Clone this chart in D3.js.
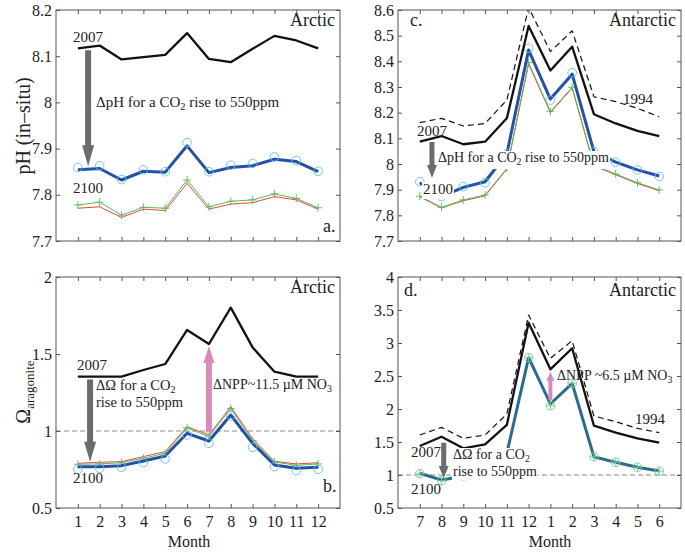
<!DOCTYPE html>
<html><head><meta charset="utf-8">
<script src="https://cdn.jsdelivr.net/npm/d3@7"></script>
<style>body{margin:0;background:#fff} svg{font-family:"Liberation Serif","Times New Roman",serif}</style>
</head><body><svg id="c" width="685" height="552"></svg>
<script>
// ---------- data ----------
const monthsArctic = [1,2,3,4,5,6,7,8,9,10,11,12];
const monthsAntarctic = [7,8,9,10,11,12,1,2,3,4,5,6];

// a. pH Arctic
const phArc2007   = [8.117,8.123,8.093,8.098,8.103,8.150,8.094,8.087,8.116,8.144,8.134,8.117];
const phArcBlue   = [7.854,7.857,7.832,7.851,7.849,7.906,7.848,7.859,7.863,7.877,7.872,7.850];
const phArcCirc   = [7.859,7.863,7.833,7.854,7.850,7.913,7.850,7.864,7.868,7.882,7.874,7.851];
const phArcGreen  = [7.778,7.784,7.756,7.773,7.771,7.832,7.774,7.786,7.789,7.802,7.792,7.772];
const phArcRed    = [7.771,7.774,7.751,7.769,7.766,7.825,7.769,7.780,7.783,7.796,7.789,7.769];

// b. Omega Arctic
const omArc2007   = [1.353,1.353,1.353,1.396,1.435,1.656,1.565,1.801,1.543,1.385,1.353,1.353];
const omArcBlue   = [0.768,0.768,0.775,0.805,0.838,0.985,0.935,1.104,0.920,0.779,0.758,0.764];
const omArcCirc   = [0.751,0.758,0.764,0.794,0.818,0.974,0.920,1.098,0.894,0.768,0.742,0.751];
const omArcGreen  = [0.784,0.786,0.794,0.823,0.855,1.021,0.963,1.147,0.937,0.799,0.777,0.786];
const omArcRed    = [0.790,0.797,0.801,0.834,0.866,1.028,0.974,1.158,0.950,0.803,0.786,0.794];

// c. pH Antarctic
const phAnt2007   = [8.087,8.109,8.077,8.087,8.178,8.538,8.364,8.457,8.194,8.158,8.129,8.109];
const phAnt1994   = [8.161,8.178,8.148,8.158,8.249,8.610,8.438,8.519,8.262,8.243,8.217,8.184];
const phAntBlue   = [7.927,7.873,7.909,7.931,8.040,8.444,8.253,8.350,8.048,8.007,7.977,7.953];
const phAntCirc   = [7.931,7.873,7.912,7.927,8.040,8.451,8.249,8.356,8.048,8.007,7.977,7.951];
const phAntGreen  = [7.875,7.831,7.860,7.879,7.983,8.395,8.204,8.299,7.996,7.961,7.927,7.899];
const phAntRed    = [7.872,7.829,7.857,7.876,7.980,8.390,8.200,8.296,7.993,7.958,7.924,7.896];

// d. Omega Antarctic
const omAnt2007   = [1.439,1.580,1.404,1.465,1.758,3.308,2.601,2.920,1.747,1.641,1.556,1.489];
const omAnt1994   = [1.606,1.722,1.556,1.606,1.924,3.424,2.768,3.035,1.894,1.808,1.707,1.641];
const omAntBlue   = [1.026,0.924,0.980,1.010,1.330,2.778,2.076,2.389,1.277,1.192,1.117,1.061];
const omAntCirc   = [1.020,0.915,0.980,1.010,1.330,2.778,2.050,2.389,1.277,1.192,1.117,1.058];

// ticks
const ticksPhArc = [7.7,7.8,7.9,8,8.1,8.2];
const ticksOmArc = [0.5,1,1.5,2];
const ticksPhAnt = [7.7,7.8,7.9,8,8.1,8.2,8.3,8.4,8.5,8.6];
const ticksOmAnt = [0.5,1,1.5,2,2.5,3,3.5,4];

// ---------- drawing ----------
const svg = d3.select("#c");
const H = 231;
const AX = "#555";

function panel(o){
  const g = svg.append("g").attr("transform",`translate(${o.left},${o.top})`);
  const x = d3.scaleLinear().domain([0,13]).range([0,o.w]);
  const y = d3.scaleLinear().domain(o.yDomain).range([H,0]);
  const id = "clip"+o.name;
  g.append("clipPath").attr("id",id).append("rect").attr("width",o.w).attr("height",H);
  const plot = g.append("g").attr("clip-path",`url(#${id})`);
  const fmt = d => String(+d.toFixed(2));
  const st = a => { a.select(".domain").remove(); a.selectAll("line").attr("stroke",AX);
    a.selectAll("text").attr("fill","#222").style("font-family","Liberation Serif").style("font-size","16px"); };
  g.append("g").attr("transform",`translate(0,${H})`)
    .call(d3.axisBottom(x).tickValues(d3.range(1,13)).tickSize(-4).tickPadding(8)
      .tickFormat(o.xLabels ? (d => o.xLabels[d-1]) : "")).call(st);
  g.append("g").call(d3.axisTop(x).tickValues(d3.range(1,13)).tickSize(-4).tickFormat("")).call(st);
  g.append("g").call(d3.axisLeft(y).tickValues(o.yTicks).tickSize(-4).tickPadding(4).tickFormat(fmt)).call(st);
  g.append("g").attr("transform",`translate(${o.w},0)`)
    .call(d3.axisRight(y).tickValues(o.yTicks).tickSize(-4).tickFormat("")).call(st);
  g.append("rect").attr("width",o.w).attr("height",H).attr("fill","none").attr("stroke",AX).attr("stroke-width",1);
  const line = d3.line().x((d,i)=>x(i+1)).y(d=>y(d));
  return {g,x,y,plot,line,w:o.w};
}

function drawLine(p, data, color, width, dash){
  p.plot.append("path").datum(data).attr("d",p.line).attr("fill","none")
    .attr("stroke",color).attr("stroke-width",width).attr("stroke-linejoin","round")
    .attr("stroke-dasharray",dash||null);
}
function circles(p, data, color){
  p.plot.selectAll(null).data(data).enter().append("circle")
    .attr("cx",(d,i)=>p.x(i+1)).attr("cy",d=>p.y(d)).attr("r",4.3)
    .attr("fill","none").attr("stroke",color).attr("stroke-width",0.9);
}
function pluses(p, data, color){
  p.plot.selectAll(null).data(data).enter().append("path")
    .attr("d",(d,i)=>{const cx=p.x(i+1), cy=p.y(d); return `M${cx-4},${cy}H${cx+4}M${cx},${cy-4}V${cy+4}`;})
    .attr("stroke",color).attr("stroke-width",0.9);
}
function hline(p, v){
  p.plot.append("line").attr("x1",0).attr("x2",p.w).attr("y1",p.y(v)).attr("y2",p.y(v))
    .attr("stroke","#8a8a8a").attr("stroke-width",1).attr("stroke-dasharray","5,3");
}
function arrow(p, xv, v1, v2, color, sw, hw, hl){
  const x = p.x(xv), y1 = p.y(v1), y2 = p.y(v2);
  const dir = y2 > y1 ? 1 : -1;
  const yh = y2 - dir*hl;
  p.g.append("path").attr("fill",color)
    .attr("d",`M${x-sw/2},${y1}L${x+sw/2},${y1}L${x+sw/2},${yh}L${x+hw/2},${yh}L${x},${y2}L${x-hw/2},${yh}L${x-sw/2},${yh}Z`);
}
// lines: array of lines, each an array of parts; a part that is an array is a subscript
function label(p, x, y, lines, size, opts={}){
  const grp = p.g.append("g");
  const lh = opts.lh || size*1.05;
  lines.forEach((parts, li) => {
    const t = grp.append("text").attr("x",x).attr("y",y+li*lh).attr("fill","#222")
      .style("font-size",size+"px").attr("text-anchor",opts.anchor||"start");
    let sub = false;
    parts.forEach(s => {
      const isSub = Array.isArray(s);
      const ts = t.append("tspan").text(isSub ? s[0] : s);
      if (isSub){ ts.style("font-size",(size*0.7)+"px"); if(!sub){ ts.attr("dy",size*0.22); sub = true; } }
      else if (sub){ ts.attr("dy",-size*0.22); sub = false; }
    });
  });
  if (opts.bg){
    const b = grp.node().getBBox();
    grp.insert("rect",":first-child").attr("x",b.x-1).attr("y",b.y+1)
      .attr("width",b.width+2).attr("height",b.height+1).attr("fill","#fff");
  }
  return grp;
}

const GRAY = "#6b6c6e", PINK = "#d98abd";
const BLUE = "#2450a6", CYAN = "#5ec3e8", GREEN = "#5cb85c", RED = "#e2483c";

// a.
const pa = panel({name:"a",left:56,top:10,w:284,yDomain:[7.7,8.2],yTicks:ticksPhArc});
drawLine(pa, phArcRed, RED, 1);
drawLine(pa, phArcGreen, GREEN, 1);
pluses(pa, phArcGreen, GREEN);
drawLine(pa, phArcBlue, BLUE, 3);
circles(pa, phArcCirc, CYAN);
drawLine(pa, phArc2007, "#111", 2.3);
arrow(pa, 1.47, 8.113, 7.862, GRAY, 6, 12, 21);
label(pa, 17, 32, [["2007"]], 15);
label(pa, 17, 183, [["2100"]], 15);
label(pa, 40, 97, [["ΔpH for a CO",["2"]," rise to 550ppm"]], 15);
label(pa, 279, 16, [["Arctic"]], 18, {anchor:"end"});
label(pa, 267, 222, [["a."]], 18);

// b.
const pb = panel({name:"b",left:56,top:277,w:284,yDomain:[0.5,2],yTicks:ticksOmArc,xLabels:monthsArctic});
hline(pb, 1);
drawLine(pb, omArcRed, RED, 1);
drawLine(pb, omArcGreen, GREEN, 1);
pluses(pb, omArcGreen, GREEN);
drawLine(pb, omArcBlue, BLUE, 3);
circles(pb, omArcCirc, CYAN);
drawLine(pb, omArc2007, "#111", 2.3);
arrow(pb, 1.56, 1.335, 0.80, GRAY, 6, 12, 20);
arrow(pb, 7, 0.99, 1.552, PINK, 6, 11, 17);
label(pb, 21, 93, [["2007"]], 15);
label(pb, 17, 206, [["2100"]], 15);
label(pb, 40, 113, [["ΔΩ for a CO",["2"]],["rise to 550ppm"]], 14.5, {lh:17});
label(pb, 157, 112, [["ΔNPP~11.5 µM NO",["3"]]], 14);
label(pb, 279, 16, [["Arctic"]], 18, {anchor:"end"});
label(pb, 267, 215, [["b."]], 18);

// c.
const pc = panel({name:"c",left:398,top:10,w:283,yDomain:[7.7,8.6],yTicks:ticksPhAnt});
drawLine(pc, phAnt1994, "#111", 1.2, "6,4");
drawLine(pc, phAntRed, RED, 1);
drawLine(pc, phAntGreen, GREEN, 1);
pluses(pc, phAntGreen, GREEN);
drawLine(pc, phAntBlue, BLUE, 3);
circles(pc, phAntCirc, CYAN);
drawLine(pc, phAnt2007, "#111", 2.3);
arrow(pc, 1.56, 8.086, 7.945, GRAY, 5, 10, 13);
label(pc, 19, 126, [["2007"]], 15);
label(pc, 25, 184, [["2100"]], 15, {bg:true});
label(pc, 225, 94, [["1994"]], 15);
label(pc, 40, 152, [["ΔpH for a CO",["2"]," rise to 550ppm"]], 14, {bg:true});
label(pc, 12, 16, [["c."]], 18);
label(pc, 278, 16, [["Antarctic"]], 18, {anchor:"end"});

// d.
const pd = panel({name:"d",left:398,top:277,w:283,yDomain:[0.5,4],yTicks:ticksOmAnt,xLabels:monthsAntarctic});
hline(pd, 1);
drawLine(pd, omAnt1994, "#111", 1.2, "6,4");
drawLine(pd, omAntBlue, "#2a6c8e", 3);
circles(pd, omAntCirc, "#6fd08c");
pluses(pd, omAntCirc, "#6fd08c");
drawLine(pd, omAnt2007, "#111", 2.3);
arrow(pd, 2.1, 1.49, 0.955, GRAY, 5, 10, 12);
arrow(pd, 7, 2.136, 2.565, PINK, 4, 8, 9);
label(pd, 13, 180, [["2007"]], 15);
label(pd, 13, 217, [["2100"]], 15);
label(pd, 237, 147, [["1994"]], 15);
label(pd, 55, 182, [["ΔΩ for a CO",["2"]],["rise to 550ppm"]], 14, {bg:true, lh:16.5});
label(pd, 159, 103, [["ΔNPP ~6.5 µM NO",["3"]]], 14);
label(pd, 6, 19, [["d."]], 18);
label(pd, 278, 19, [["Antarctic"]], 18, {anchor:"end"});

// axis titles
svg.append("text").attr("transform","translate(30,126) rotate(-90)").attr("text-anchor","middle")
  .attr("fill","#222").style("font-size","20px").text("pH (in–situ)");
const om = svg.append("text").attr("transform","translate(30,392) rotate(-90)").attr("text-anchor","middle")
  .attr("fill","#222").style("font-size","20px");
om.append("tspan").text("Ω");
om.append("tspan").attr("dy",4).style("font-size","13px").text("aragonite");
svg.append("text").attr("x",189).attr("y",547).attr("text-anchor","middle").attr("fill","#222")
  .style("font-size","16px").text("Month");
svg.append("text").attr("x",550).attr("y",547).attr("text-anchor","middle").attr("fill","#222")
  .style("font-size","16px").text("Month");
</script></body></html>
